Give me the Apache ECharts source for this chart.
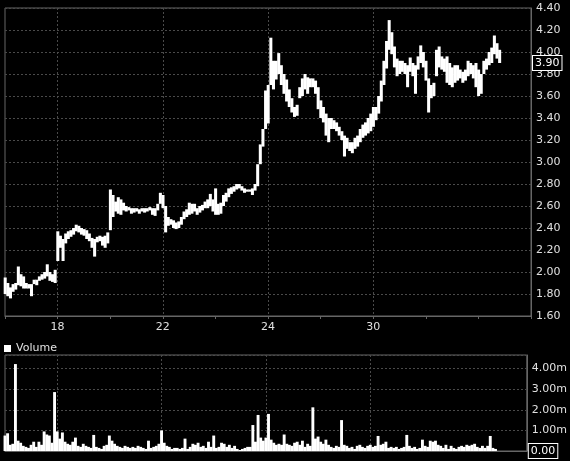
<!DOCTYPE html>
<html>
<head>
<meta charset="utf-8">
<script src="https://cdn.jsdelivr.net/npm/echarts@6/dist/echarts.min.js"></script>
<style>html,body{margin:0;padding:0;background:#000;}#c{width:570px;height:461px;}</style>
</head>
<body>
<div id="c"></div>
<script>
// Tick labels, one per tick (every 20 bars)
const tickLabels = ['', '18', '', '22', '', '24', '', '30', '', '', ''];
const barsPerTick = 20;

// Price bars (low / high)
const priceLow = [
1.80,1.78,1.76,1.82,1.84,1.88,1.87,1.85,1.85,1.85,
1.78,1.89,1.88,1.92,1.93,1.94,1.96,1.92,1.91,1.90,
2.10,2.22,2.10,2.26,2.30,2.32,2.34,2.37,2.36,2.34,
2.33,2.30,2.28,2.22,2.14,2.27,2.28,2.24,2.22,2.26,
2.38,2.50,2.55,2.53,2.52,2.56,2.55,2.56,2.53,2.54,
2.55,2.53,2.55,2.54,2.55,2.56,2.52,2.51,2.56,2.62,
2.58,2.36,2.42,2.43,2.40,2.39,2.40,2.43,2.48,2.50,
2.52,2.53,2.55,2.52,2.54,2.56,2.58,2.58,2.60,2.55,
2.52,2.52,2.53,2.60,2.64,2.68,2.71,2.73,2.75,2.76,
2.74,2.72,2.73,2.73,2.70,2.74,2.78,2.98,3.14,3.30,
3.35,3.70,3.66,3.75,3.80,3.70,3.62,3.55,3.50,3.45,
3.41,3.42,3.58,3.60,3.66,3.62,3.68,3.68,3.62,3.48,
3.40,3.36,3.24,3.18,3.30,3.30,3.28,3.24,3.20,3.05,
3.12,3.10,3.08,3.12,3.14,3.18,3.22,3.24,3.26,3.28,
3.32,3.38,3.44,3.55,3.70,3.85,4.02,3.98,3.86,3.78,
3.80,3.82,3.80,3.68,3.82,3.78,3.62,3.84,3.90,3.86,
3.74,3.45,3.58,3.60,3.78,3.86,3.84,3.82,3.72,3.70,
3.68,3.72,3.74,3.76,3.72,3.74,3.78,3.80,3.76,3.68,
3.60,3.62,3.80,3.84,3.88,3.90,3.98,3.94,3.90
];
const priceHigh = [
1.95,1.90,1.86,1.89,1.90,2.05,1.98,1.96,1.90,1.89,
1.89,1.93,1.93,1.96,1.98,2.00,2.07,2.00,1.98,2.02,
2.37,2.33,2.30,2.35,2.37,2.38,2.40,2.43,2.42,2.40,
2.39,2.38,2.35,2.31,2.30,2.32,2.33,2.32,2.33,2.36,
2.75,2.70,2.64,2.68,2.66,2.63,2.60,2.59,2.58,2.58,
2.58,2.57,2.58,2.58,2.58,2.59,2.58,2.58,2.62,2.72,
2.70,2.60,2.50,2.48,2.47,2.45,2.46,2.50,2.55,2.57,
2.63,2.62,2.62,2.58,2.60,2.61,2.64,2.66,2.71,2.66,
2.76,2.62,2.63,2.70,2.72,2.76,2.77,2.78,2.80,2.80,
2.78,2.76,2.75,2.75,2.76,2.80,2.98,3.16,3.30,3.65,
3.70,4.13,3.92,3.92,3.99,3.88,3.80,3.75,3.66,3.58,
3.50,3.52,3.68,3.76,3.80,3.77,3.76,3.76,3.74,3.68,
3.56,3.50,3.44,3.40,3.40,3.38,3.36,3.32,3.28,3.24,
3.22,3.18,3.18,3.22,3.24,3.30,3.34,3.36,3.40,3.44,
3.50,3.50,3.60,3.74,3.92,4.10,4.29,4.18,4.05,3.94,
3.92,3.92,3.90,3.88,3.95,3.90,3.88,3.96,4.06,4.00,
3.92,3.76,3.70,3.72,4.02,4.05,3.96,3.94,3.96,3.90,
3.86,3.88,3.88,3.84,3.82,3.84,3.92,3.90,3.88,3.90,
3.84,3.80,3.92,3.94,4.00,4.04,4.15,4.08,4.02
];
// Volume in millions
const volume = [
0.75,0.86,0.30,0.35,4.22,0.50,0.40,0.25,0.20,0.15,
0.30,0.45,0.20,0.45,0.30,0.95,0.80,0.75,0.40,2.86,
0.95,0.60,0.90,0.45,0.35,0.30,0.45,0.65,0.25,0.20,
0.35,0.25,0.20,0.15,0.78,0.20,0.15,0.10,0.25,0.30,
0.75,0.50,0.35,0.25,0.20,0.15,0.25,0.20,0.15,0.20,
0.15,0.25,0.20,0.15,0.10,0.50,0.15,0.20,0.25,0.35,
1.00,0.40,0.25,0.20,0.10,0.15,0.15,0.10,0.15,0.60,
0.10,0.20,0.35,0.30,0.40,0.20,0.25,0.15,0.45,0.20,
0.75,0.15,0.20,0.40,0.35,0.20,0.30,0.15,0.25,0.10,
0.05,0.10,0.15,0.20,0.20,1.26,0.45,1.75,0.65,0.50,
0.65,1.80,0.55,0.40,0.30,0.35,0.30,0.80,0.35,0.30,
0.25,0.40,0.45,0.30,0.50,0.20,0.35,0.25,2.12,0.60,
0.70,0.45,0.35,0.55,0.30,0.20,0.15,0.25,0.20,1.50,
0.30,0.25,0.15,0.20,0.10,0.25,0.30,0.20,0.15,0.25,
0.30,0.20,0.25,0.73,0.30,0.35,0.45,0.15,0.20,0.15,
0.20,0.10,0.15,0.20,0.78,0.25,0.15,0.20,0.10,0.15,
0.55,0.25,0.20,0.50,0.45,0.50,0.30,0.25,0.15,0.30,
0.10,0.25,0.15,0.10,0.20,0.25,0.20,0.30,0.25,0.30,
0.35,0.20,0.15,0.25,0.15,0.25,0.73,0.15,0.10
];
const lastPrice = 3.90;
const lastVolume = 0.00;

const nCats = (tickLabels.length - 1) * barsPerTick + 1;
const categories = [];
for (let i = 0; i < nCats; i++) {
  categories.push(i % barsPerTick === 0 ? tickLabels[i / barsPerTick] : '');
}
const priceData = priceLow.map((l, i) => [i, l, priceHigh[i]]);

const FONT = 'DejaVu Sans';
const gridColor = '#4a4a4a';
const axisColor = '#666';
const txt = '#e0e0e0';
const labelShown = (idx, val) => val !== '';
const tickShown = (idx) => idx % barsPerTick === 0;
const boxLabel = (text) => ({
  show: true, position: 'end', distance: 2, formatter: text, color: '#fff',
  fontFamily: FONT, fontSize: 11, backgroundColor: '#000', borderColor: '#fff', borderWidth: 1,
  padding: [2, 2, 1, 2]
});

function renderRange(params, api) {
  const idx = api.value(0);
  const lo = api.coord([idx, api.value(1)]);
  const hi = api.coord([idx, api.value(2)]);
  const step = api.size([1, 0])[0];
  const w = Math.max(2, step);
  return {
    type: 'rect',
    shape: {x: lo[0] - w / 2, y: hi[1], width: w + 0.4, height: Math.max(1, lo[1] - hi[1])},
    style: {fill: '#fff'}
  };
}

const chart = echarts.init(document.getElementById('c'), null, {renderer: 'canvas'});
chart.setOption({
  backgroundColor: '#000',
  animation: false,
  legend: {
    data: [{name: 'Volume', icon: 'rect'}],
    left: 4, top: 343,
    itemWidth: 7, itemHeight: 7, itemGap: 4,
    textStyle: {color: txt, fontFamily: FONT, fontSize: 11, padding: [0,0,0,0]},
    padding: 0
  },
  grid: [
    {left: 5, right: 39, top: 8, height: 308, show: true, borderColor: axisColor, borderWidth: 1, backgroundColor: '#000'},
    {left: 5, right: 39, top: 355, height: 96, show: true, borderColor: axisColor, borderWidth: 1, backgroundColor: '#000'}
  ],
  xAxis: [
    {
      type: 'category', gridIndex: 0, data: categories, boundaryGap: false,
      axisLine: {lineStyle: {color: axisColor}},
      axisTick: {interval: tickShown, length: 3, lineStyle: {color: axisColor}},
      axisLabel: {interval: labelShown, color: txt, fontFamily: FONT, fontSize: 11, margin: 6},
      splitLine: {show: true, interval: labelShown, lineStyle: {color: gridColor, type: [2, 2]}}
    },
    {
      type: 'category', gridIndex: 1, data: categories, boundaryGap: false,
      axisLine: {lineStyle: {color: axisColor}},
      axisTick: {show: false},
      axisLabel: {show: false},
      splitLine: {show: true, interval: labelShown, lineStyle: {color: gridColor, type: [2, 2]}}
    }
  ],
  yAxis: [
    {
      type: 'value', gridIndex: 0, position: 'right', min: 1.6, max: 4.4, interval: 0.2,
      axisLine: {show: true, lineStyle: {color: axisColor}},
      axisTick: {show: false},
      axisLabel: {color: txt, fontFamily: FONT, fontSize: 11, margin: 5, formatter: v => v.toFixed(2)},
      splitLine: {lineStyle: {color: gridColor, type: [2, 2]}}
    },
    {
      type: 'value', gridIndex: 1, position: 'right', min: 0, max: 4.66, interval: 1,
      axisLine: {show: true, lineStyle: {color: axisColor}},
      axisTick: {show: false},
      axisLabel: {color: txt, fontFamily: FONT, fontSize: 11, margin: 5, showMaxLabel: false,
        formatter: v => v === 0 ? '' : v.toFixed(2) + 'm'},
      splitLine: {lineStyle: {color: gridColor, type: [2, 2]}}
    }
  ],
  series: [
    {
      name: 'Price', type: 'custom', xAxisIndex: 0, yAxisIndex: 0,
      data: priceData, encode: {x: 0, y: [1, 2]},
      renderItem: renderRange,
      markLine: {
        silent: true, symbol: 'none', z: 10,
        lineStyle: {width: 1, color: 'rgba(0,0,0,0)', type: 'solid'},
        label: boxLabel(lastPrice.toFixed(2)),
        data: [{yAxis: lastPrice}]
      }
    },
    {
      name: 'Volume', type: 'bar', xAxisIndex: 1, yAxisIndex: 1,
      data: volume, barWidth: 2.9,
      itemStyle: {color: '#fff', borderWidth: 0},
      markLine: {
        silent: true, symbol: 'none', z: 10,
        lineStyle: {width: 1, color: 'rgba(0,0,0,0)', type: 'solid'},
        label: boxLabel(lastVolume.toFixed(2)),
        data: [{yAxis: lastVolume}]
      }
    }
  ]
});
</script>
</body>
</html>
